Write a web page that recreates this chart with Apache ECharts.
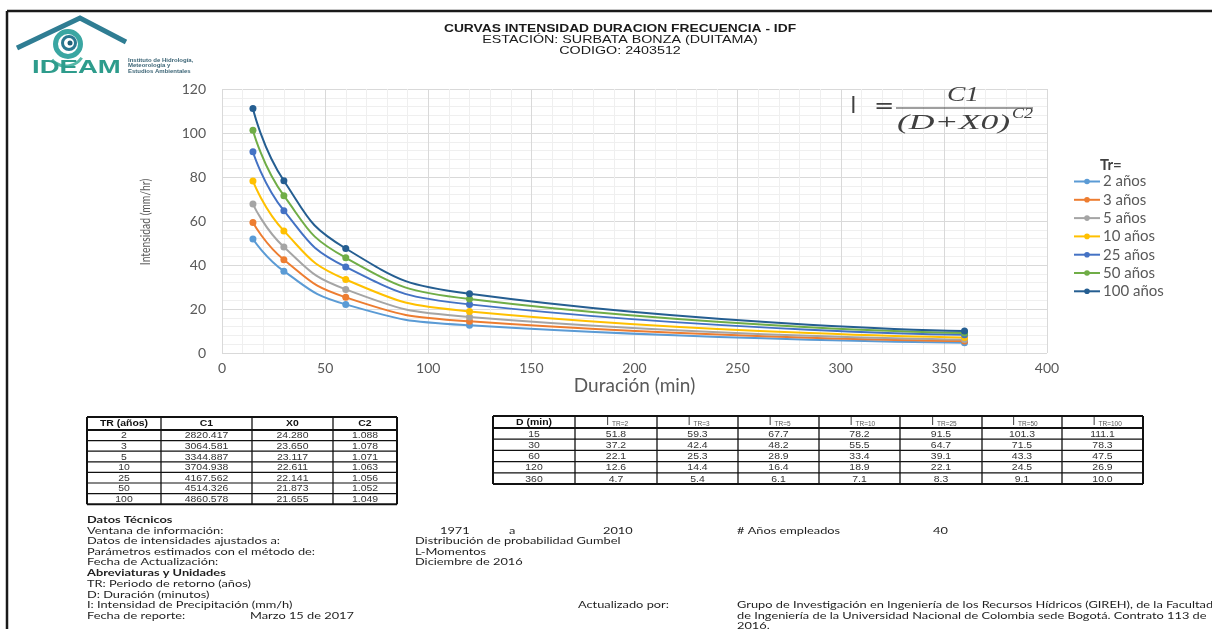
<!DOCTYPE html>
<html>
<head>
<meta charset="utf-8">
<script src="https://cdn.jsdelivr.net/npm/echarts@6/dist/echarts.min.js"></script>
<style>
  html, body { margin: 0; padding: 0; background: #ffffff; }
  #chartIdf { width: 1212px; height: 629px; }
</style>
</head>
<body>
<div id="chartIdf"></div>
<script>
// duraciones (min) y periodos de retorno
const durations = [15, 30, 60, 120, 360]
const returnPeriods = [2, 3, 5, 10, 25, 50, 100]
const seriesNames = ['2 años', '3 años', '5 años', '10 años', '25 años', '50 años', '100 años']
// intensidades (mm/h) por periodo de retorno
const iTr2 = [51.8, 37.2, 22.1, 12.6, 4.7]
const iTr3 = [59.3, 42.4, 25.3, 14.4, 5.4]
const iTr5 = [67.7, 48.2, 28.9, 16.4, 6.1]
const iTr10 = [78.2, 55.5, 33.4, 18.9, 7.1]
const iTr25 = [91.5, 64.7, 39.1, 22.1, 8.3]
const iTr50 = [101.3, 71.5, 43.3, 24.5, 9.1]
const iTr100 = [111.1, 78.3, 47.5, 26.9, 10.0]
// parametros de la ecuacion
const paramC1 = [2820.417, 3064.581, 3344.887, 3704.938, 4167.562, 4514.326, 4860.578]
const paramX0 = [24.280, 23.650, 23.117, 22.611, 22.141, 21.873, 21.655]
const paramC2 = [1.088, 1.078, 1.071, 1.063, 1.056, 1.052, 1.049]
// ticks
const xTicks = { min: 0, max: 400, interval: 50 }
const yTicks = { min: 0, max: 120, interval: 20 }

const intensities = [iTr2, iTr3, iTr5, iTr10, iTr25, iTr50, iTr100]
const colors = ['#5B9BD5', '#ED7D31', '#A5A5A5', '#FFC000', '#4472C4', '#70AD47', '#255E91']
const uiFont = 'Lato, "Open Sans", sans-serif'
const tblFont = '"Liberation Sans", Arial, sans-serif'
const mathFont = '"Liberation Serif", "DejaVu Serif", serif'

function txt(x, y, text, opts) {
  opts = opts || {}
  return {
    type: 'text', x: x, y: y, z: 10,
    scaleX: opts.scaleX || 1,
    rotation: opts.rotation || 0,
    style: {
      text: text,
      fill: opts.fill || '#222',
      fontSize: opts.size || 10,
      fontWeight: opts.bold ? 'bold' : 'normal',
      fontStyle: opts.italic ? 'italic' : 'normal',
      fontFamily: opts.family || uiFont,
      align: opts.align || 'left',
      verticalAlign: 'middle'
    }
  }
}

// texto del pie (fuente ancha como en el original)
function foot(x, y, text, bold) {
  return txt(x, y, text, { size: 10, bold: bold, scaleX: 1.28, fill: '#1e1e1e' })
}

// tabla con celdas: cols = bordes x
function buildTable(cols, top, headH, rowH, headCells, bodyRows) {
  const els = []
  const nRows = bodyRows.length
  const bottom = top + headH + nRows * rowH
  for (let c = 0; c < cols.length - 1; c++) {
    const cx = (cols[c] + cols[c + 1]) / 2
    const h = headCells[c]
    if (h.sub) {
      els.push(txt(cx - 7, top + headH / 2, h.text, { size: 10, family: tblFont, align: 'right', fill: '#333' }))
      els.push(txt(cx - 4, top + headH / 2 + 2, h.sub, { size: 6.5, family: tblFont, fill: '#555' }))
    } else {
      els.push(txt(cx, top + headH / 2, h.text, { size: 9.5, bold: true, family: tblFont, align: 'center', fill: '#111', scaleX: 1.1 }))
    }
    for (let r = 0; r < nRows; r++) {
      els.push(txt(cx, top + headH + r * rowH + rowH / 2 + 0.5, bodyRows[r][c], { size: 9.5, family: tblFont, align: 'center', fill: '#333', scaleX: 1.1 }))
    }
  }
  cols.forEach((x, i) => {
    const w = (i === 0 || i === cols.length - 1) ? 2 : 1.3
    els.push({ type: 'line', z: 11, shape: { x1: x, y1: top, x2: x, y2: bottom }, style: { stroke: '#111', lineWidth: w } })
  })
  const ys = [top, top + headH]
  for (let r = 1; r <= nRows; r++) ys.push(top + headH + r * rowH)
  ys.forEach((y, i) => {
    const w = (i === 0 || i === ys.length - 1 || i === 1) ? 2 : 1.2
    els.push({ type: 'line', z: 11, shape: { x1: cols[0], y1: y, x2: cols[cols.length - 1], y2: y }, style: { stroke: '#111', lineWidth: w } })
  })
  return els
}

const paramRows = returnPeriods.map((tr, i) => [String(tr), paramC1[i].toFixed(3), paramX0[i].toFixed(3), paramC2[i].toFixed(3)])
const intensityRows = durations.map((d, j) => [String(d)].concat(intensities.map(s => s[j].toFixed(1))))
const intensityHead = [{ text: 'D (min)' }].concat(returnPeriods.map(tr => ({ text: 'I', sub: 'TR=' + tr })))

const graphics = [
  // marco
  { type: 'line', shape: { x1: 7, y1: 11, x2: 1212, y2: 11 }, style: { stroke: '#1a1a1a', lineWidth: 2.5 } },
  { type: 'line', shape: { x1: 7, y1: 11, x2: 7, y2: 629 }, style: { stroke: '#1a1a1a', lineWidth: 2.5 } },
  // logo IDEAM
  { type: 'polyline', shape: { points: [[17, 48], [80, 18], [126, 42]] }, style: { stroke: '#2f7d93', lineWidth: 5, fill: null } },
  { type: 'ring', shape: { cx: 68, cy: 44, r: 15, r0: 10 }, style: { fill: '#3aa6a2' } },
  { type: 'ring', shape: { cx: 69, cy: 43, r: 8, r0: 5 }, style: { fill: '#2b7891' } },
  { type: 'circle', shape: { cx: 70, cy: 43, r: 2.5 }, style: { fill: '#1f5f78' } },
  { type: 'arc', shape: { cx: 66, cy: 47, r: 19, startAngle: 0.6, endAngle: 2.4 }, style: { stroke: '#56b8a8', lineWidth: 3, fill: null } },
  txt(32, 68, 'IDEAM', { size: 19, bold: true, fill: '#2e9c8c', scaleX: 1.45, family: tblFont }),
  txt(128, 60, 'Instituto de Hidrología,', { size: 6, bold: true, fill: '#3c6576', family: tblFont }),
  txt(128, 65.5, 'Meteorología y', { size: 6, bold: true, fill: '#3c6576', family: tblFont }),
  txt(128, 71, 'Estudios Ambientales', { size: 6, bold: true, fill: '#3c6576', family: tblFont }),
  // titulo
  txt(620, 29, 'CURVAS INTENSIDAD DURACION FRECUENCIA - IDF', { size: 11.5, bold: true, align: 'center', family: tblFont, fill: '#1a1a1a', scaleX: 1.2 }),
  txt(620, 40, 'ESTACIÓN: SURBATA BONZA (DUITAMA)', { size: 11, align: 'center', family: tblFont, fill: '#1a1a1a', scaleX: 1.3 }),
  txt(620, 50.5, 'CODIGO: 2403512', { size: 11, align: 'center', family: tblFont, fill: '#1a1a1a', scaleX: 1.3 }),
  // formula
  txt(850, 106, 'I', { size: 24, family: '"Open Sans", sans-serif', fill: '#404040' }),
  txt(874, 107, '=', { size: 22, family: '"DejaVu Serif", serif', fill: '#404040', scaleX: 1.1 }),
  { type: 'line', z: 10, shape: { x1: 896, y1: 108, x2: 1033, y2: 108 }, style: { stroke: '#404040', lineWidth: 1.2 } },
  txt(963, 95, 'C1', { size: 22, italic: true, align: 'center', family: mathFont, fill: '#404040', scaleX: 1.25 }),
  txt(897, 123, '(D+X0)', { size: 22, italic: true, family: mathFont, fill: '#404040', scaleX: 1.62 }),
  txt(1012, 114, 'C2', { size: 15, italic: true, family: mathFont, fill: '#404040', scaleX: 1.2 }),
  // titulo leyenda y nombre del eje y
  txt(1100, 165, 'Tr=', { size: 15, bold: true, fill: '#404040' }),
  txt(145, 222, 'Intensidad (mm/hr)', { size: 14, fill: '#595959', align: 'center', rotation: Math.PI / 2, scaleX: 0.74 }),
  // datos tecnicos
  foot(87, 520, 'Datos Técnicos', true),
  foot(87, 530.5, 'Ventana de información:'),
  foot(87, 541, 'Datos de intensidades ajustados a:'),
  foot(87, 551.5, 'Parámetros estimados con el método de:'),
  foot(87, 562, 'Fecha de Actualización:'),
  foot(87, 573, 'Abreviaturas y Unidades', true),
  foot(87, 584, 'TR: Periodo de retorno (años)'),
  foot(87, 594.5, 'D: Duración (minutos)'),
  foot(87, 605, 'I: Intensidad de Precipitación (mm/h)'),
  foot(87, 615.5, 'Fecha de reporte:'),
  foot(250, 615.5, 'Marzo 15 de 2017'),
  foot(440, 530.5, '1971'),
  foot(509, 530.5, 'a'),
  foot(603, 530.5, '2010'),
  foot(737, 530.5, '# Años empleados'),
  foot(933, 530.5, '40'),
  foot(415, 541, 'Distribución de probabilidad Gumbel'),
  foot(415, 551.5, 'L-Momentos'),
  foot(415, 562, 'Diciembre de 2016'),
  foot(578, 605, 'Actualizado por:'),
  foot(737, 605, 'Grupo de Investigación en Ingeniería de los Recursos Hídricos (GIREH), de la Facultad'),
  foot(737, 615.5, 'de Ingeniería de la Universidad Nacional de Colombia sede Bogotá. Contrato 113 de'),
  foot(737, 626, '2016.')
]
  .concat(buildTable([87, 161, 252, 333, 397], 417, 13, 10.6, [{ text: 'TR (años)' }, { text: 'C1' }, { text: 'X0' }, { text: 'C2' }], paramRows))
  .concat(buildTable([493, 575, 657, 738, 819, 900, 982, 1062, 1143], 416, 12, 11.2, intensityHead, intensityRows))

const option = {
  animation: false,
  color: colors,
  grid: { left: 222, right: 165, top: 89, bottom: 276 },
  legend: {
    orient: 'vertical',
    left: 1073,
    top: 174,
    padding: 0,
    itemWidth: 26,
    itemHeight: 7,
    itemGap: 3.3,
    textStyle: { color: '#595959', fontSize: 15, fontFamily: uiFont, padding: [0, 0, 0, -2] },
    data: seriesNames
  },
  xAxis: {
    type: 'value',
    min: xTicks.min, max: xTicks.max, interval: xTicks.interval,
    name: 'Duración (min)',
    nameLocation: 'middle',
    nameGap: 23,
    nameTextStyle: { color: '#595959', fontSize: 19, fontFamily: uiFont },
    axisLine: { show: false },
    axisTick: { show: false },
    axisLabel: { color: '#595959', fontSize: 14, fontFamily: uiFont, margin: 8 },
    splitLine: { lineStyle: { color: '#d9d9d9' } },
    minorTick: { show: false, splitNumber: 5 },
    minorSplitLine: { show: true, lineStyle: { color: '#efefef' } }
  },
  yAxis: {
    type: 'value',
    min: yTicks.min, max: yTicks.max, interval: yTicks.interval,
    axisLine: { show: false },
    axisTick: { show: false },
    axisLabel: { color: '#595959', fontSize: 14, fontFamily: uiFont, margin: 16 },
    splitLine: { lineStyle: { color: '#d9d9d9' } },
    minorTick: { show: false, splitNumber: 5 },
    minorSplitLine: { show: true, lineStyle: { color: '#efefef' } }
  },
  series: intensities.map((vals, k) => ({
    name: seriesNames[k],
    type: 'line',
    smooth: 0.5,
    symbol: 'circle',
    symbolSize: 7,
    lineStyle: { width: 2 },
    data: durations.map((d, j) => [d, vals[j]])
  })),
  graphic: { elements: graphics }
}

var myChart = echarts.init(document.getElementById('chartIdf'))
myChart.setOption(option)
</script>
</body>
</html>
